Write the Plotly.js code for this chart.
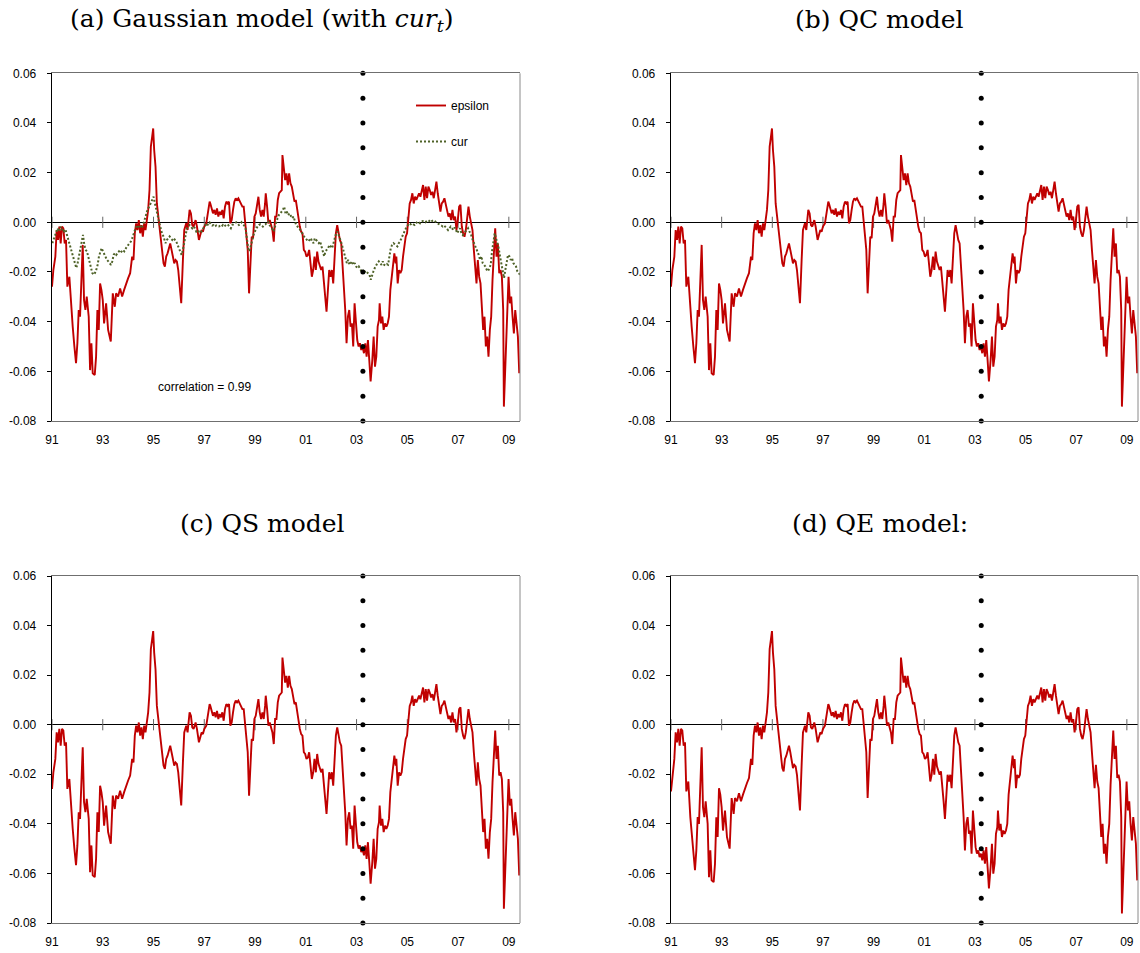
<!DOCTYPE html>
<html>
<head>
<meta charset="utf-8">
<script src="https://cdn.plot.ly/plotly-3.0.1.min.js"></script>
<style>
html,body{margin:0;padding:0;background:#fff;}
#chart{width:1140px;height:953px;}
</style>
</head>
<body>
<div id="chart"></div>
<script>
// ---------------- DATA ----------------
const panelTitles = [
  "(a) Gaussian model (with <i>cur</i><sub><i>t</i></sub>)",
  "(b) QC model",
  "(c) QS model",
  "(d) QE model:"
];
const xTickYears = [1991,1993,1995,1997,1999,2001,2003,2005,2007,2009];
const xTickText  = ["91","93","95","97","99","01","03","05","07","09"];
const yTickVals  = [-0.08,-0.06,-0.04,-0.02,0,0.02,0.04,0.06];
const yTickText  = ["-0.08","-0.06","-0.04","-0.02","0.00","0.02","0.04","0.06"];
const breakYear  = 2003.25;
const dotLevels  = [-0.08,-0.07,-0.06,-0.05,-0.04,-0.03,-0.02,-0.01,0,0.01,0.02,0.03,0.04,0.05,0.06];
const correlationText = "correlation = 0.99";

// epsilon: dates (decimal years)
const epsYears = [
1991.000,1991.053,1991.132,1991.184,1991.237,1991.289,1991.342,1991.395,1991.447,1991.500,
1991.553,1991.605,1991.684,1991.763,1991.816,1991.882,1991.947,1992.000,1992.053,1992.105,
1992.158,1992.211,1992.263,1992.316,1992.368,1992.447,1992.500,1992.553,1992.605,1992.684,
1992.737,1992.789,1992.842,1992.895,1992.947,1993.000,1993.053,1993.132,1993.211,1993.316,
1993.395,1993.474,1993.526,1993.605,1993.684,1993.763,1993.842,1993.921,1994.000,1994.079,
1994.158,1994.211,1994.263,1994.316,1994.368,1994.421,1994.474,1994.526,1994.579,1994.632,
1994.684,1994.737,1994.789,1994.842,1994.895,1994.947,1994.987,1995.026,1995.079,1995.132,
1995.184,1995.237,1995.289,1995.342,1995.395,1995.447,1995.500,1995.553,1995.605,1995.658,
1995.711,1995.763,1995.816,1995.868,1995.921,1995.974,1996.026,1996.092,1996.158,1996.211,
1996.289,1996.342,1996.421,1996.474,1996.526,1996.579,1996.658,1996.711,1996.789,1996.842,
1996.895,1996.947,1997.000,1997.079,1997.158,1997.211,
1997.238,1997.291,1997.343,1997.396,1997.448,1997.501,1997.554,1997.606,1997.659,1997.712,
1997.764,1997.817,1997.869,1997.922,1997.975,1998.027,1998.080,1998.133,1998.185,1998.238,
1998.291,1998.343,1998.396,1998.448,1998.501,1998.554,1998.606,1998.659,1998.712,1998.764,
1998.817,1998.869,1998.922,1998.975,1999.027,1999.080,1999.133,1999.185,1999.238,1999.291,
1999.343,1999.396,1999.422,1999.475,1999.527,1999.580,1999.633,1999.685,1999.738,1999.791,
1999.843,1999.896,1999.948,2000.001,2000.054,2000.080,2000.133,2000.185,2000.238,2000.291,
2000.343,2000.396,2000.448,2000.501,2000.554,2000.606,2000.659,2000.712,2000.764,2000.817,
2000.869,2000.922,2000.975,2001.027,2001.080,2001.133,2001.185,2001.238,2001.291,2001.343,
2001.396,2001.448,2001.501,2001.554,2001.606,2001.659,2001.712,2001.764,2001.817,2001.869,
2001.922,2001.975,2002.027,2002.080,2002.133,2002.185,2002.238,2002.291,2002.343,2002.396,
2002.448,2002.501,2002.554,2002.606,2002.659,2002.712,2002.764,2002.817,2002.869,2002.922,
2002.975,2003.027,2003.080,2003.133,2003.185,2003.238,2003.291,2003.343,2003.396,2003.448,
2003.501,2003.554,
2003.621,2003.673,2003.726,2003.778,2003.831,2003.884,2003.910,2003.963,2004.015,2004.068,
2004.121,2004.173,2004.226,2004.278,2004.331,2004.384,2004.436,2004.489,2004.542,2004.568,
2004.621,2004.673,2004.726,2004.778,2004.831,2004.884,2004.936,2004.989,2005.042,2005.094,
2005.147,2005.199,2005.252,2005.305,2005.357,2005.410,2005.463,2005.515,2005.568,2005.621,
2005.673,2005.726,2005.778,2005.831,2005.884,2005.936,2005.989,2006.042,2006.094,2006.147,
2006.199,2006.252,2006.305,2006.357,2006.410,2006.463,2006.515,2006.568,2006.621,2006.673,
2006.726,2006.778,2006.831,2006.884,2006.936,2006.989,2007.042,2007.094,2007.147,2007.199,
2007.252,2007.305,2007.357,2007.410,2007.463,2007.515,2007.568,2007.621,2007.673,2007.726,
2007.778,2007.831,2007.884,2007.936,2007.989,2008.042,2008.094,2008.147,2008.199,2008.252,
2008.305,2008.357,2008.410,2008.463,2008.515,2008.568,2008.621,2008.673,2008.726,2008.778,
2008.805,2008.857,2008.910,2008.936,2008.989,2009.042,2009.094,2009.147,2009.199,2009.252,
2009.305,2009.357,2009.410
];

// epsilon as drawn in panels (a), (b) and (c) (visually identical there)
const epsilon = [
-0.0259,-0.0192,-0.0138,-0.0031,-0.0071,-0.0017,-0.0085,-0.0017,-0.0024,-0.0085,
-0.0071,-0.0259,-0.0219,-0.0353,-0.0420,-0.0500,-0.0567,-0.0487,-0.0353,-0.0380,
-0.0246,-0.0091,-0.0313,-0.0353,-0.0299,-0.0380,-0.0595,-0.0487,-0.0608,-0.0615,
-0.0541,-0.0353,-0.0433,-0.0246,-0.0272,-0.0313,-0.0407,-0.0326,-0.0433,-0.0480,
-0.0286,-0.0340,-0.0286,-0.0299,-0.0266,-0.0299,-0.0272,-0.0246,-0.0225,-0.0205,
-0.0138,-0.0152,-0.0044,-0.0004,-0.0031,0.0009,-0.0044,-0.0011,-0.0058,-0.0004,
-0.0031,0.0009,0.0050,0.0130,0.0305,0.0345,0.0378,0.0291,0.0224,0.0076,
0.0023,-0.0017,-0.0085,-0.0111,-0.0165,-0.0178,-0.0138,-0.0125,-0.0098,-0.0085,
-0.0111,-0.0138,-0.0165,-0.0152,-0.0158,-0.0192,-0.0246,-0.0326,-0.0152,-0.0031,
-0.0004,-0.0031,0.0050,0.0036,-0.0011,-0.0017,0.0009,-0.0017,-0.0071,-0.0044,
-0.0031,-0.0038,-0.0017,-0.0004,0.0050,0.0083,
0.0076,0.0050,0.0036,0.0050,0.0030,0.0056,0.0023,0.0043,0.0030,0.0050,
0.0016,0.0063,0.0083,0.0076,0.0083,-0.0004,0.0009,0.0050,0.0083,0.0097,
0.0090,0.0097,0.0083,0.0076,0.0063,0.0063,0.0009,-0.0044,-0.0111,-0.0286,
-0.0138,-0.0058,-0.0064,0.0023,0.0036,0.0063,0.0103,0.0050,0.0023,0.0050,
0.0023,0.0076,0.0117,0.0063,-0.0004,0.0009,-0.0017,-0.0031,-0.0078,0.0023,
0.0023,0.0090,0.0117,0.0123,0.0130,0.0271,0.0224,0.0170,0.0197,0.0150,
0.0197,0.0157,0.0144,0.0117,0.0083,0.0090,0.0050,0.0003,-0.0017,-0.0038,
-0.0044,-0.0111,-0.0118,-0.0138,-0.0132,-0.0111,-0.0178,-0.0219,-0.0192,-0.0138,
-0.0192,-0.0118,-0.0158,-0.0178,-0.0192,-0.0178,-0.0259,-0.0299,-0.0360,-0.0259,
-0.0192,-0.0219,-0.0192,-0.0246,-0.0138,-0.0044,-0.0011,-0.0044,-0.0071,-0.0085,
-0.0165,-0.0259,-0.0353,-0.0487,-0.0380,-0.0353,-0.0420,-0.0407,-0.0500,-0.0326,
-0.0407,-0.0474,-0.0500,-0.0487,-0.0514,-0.0500,-0.0527,-0.0487,-0.0541,-0.0474,
-0.0554,-0.0641,
-0.0554,-0.0460,-0.0581,-0.0541,-0.0420,-0.0393,-0.0326,-0.0407,-0.0380,-0.0433,
-0.0407,-0.0420,-0.0407,-0.0380,-0.0272,-0.0219,-0.0152,-0.0125,-0.0165,-0.0138,
-0.0246,-0.0192,-0.0205,-0.0192,-0.0138,-0.0085,-0.0058,-0.0044,0.0009,0.0076,
0.0090,0.0117,0.0076,0.0103,0.0090,0.0103,0.0117,0.0103,0.0130,0.0150,
0.0090,0.0144,0.0097,0.0144,0.0130,0.0110,0.0123,0.0097,0.0130,0.0164,
0.0117,0.0083,0.0043,0.0076,0.0083,0.0097,0.0076,0.0043,0.0023,0.0036,
0.0009,0.0050,0.0009,0.0023,-0.0031,0.0009,0.0063,0.0070,-0.0017,-0.0044,
-0.0058,-0.0031,0.0009,0.0063,0.0023,-0.0004,-0.0031,-0.0111,-0.0192,-0.0246,
-0.0152,-0.0219,-0.0246,-0.0353,-0.0433,-0.0380,-0.0500,-0.0460,-0.0541,-0.0433,
-0.0380,-0.0232,-0.0138,-0.0024,-0.0138,-0.0085,-0.0205,-0.0192,-0.0219,-0.0353,
-0.0742,-0.0568,-0.0460,-0.0299,-0.0219,-0.0326,-0.0299,-0.0380,-0.0447,-0.0353,
-0.0420,-0.0460,-0.0608
];

// epsilon as drawn in panel (d) QE model (slightly deeper troughs)
const epsilonQE = [
-0.0269,-0.0202,-0.0138,-0.0031,-0.0071,-0.0017,-0.0085,-0.0017,-0.0024,-0.0085,
-0.0071,-0.0269,-0.0229,-0.0373,-0.0440,-0.0520,-0.0587,-0.0507,-0.0373,-0.0400,
-0.0256,-0.0091,-0.0333,-0.0373,-0.0309,-0.0400,-0.0615,-0.0507,-0.0628,-0.0635,
-0.0561,-0.0373,-0.0453,-0.0256,-0.0282,-0.0333,-0.0427,-0.0346,-0.0453,-0.0500,
-0.0296,-0.0360,-0.0296,-0.0309,-0.0276,-0.0309,-0.0282,-0.0256,-0.0235,-0.0215,
-0.0138,-0.0162,-0.0044,-0.0004,-0.0031,0.0009,-0.0044,-0.0011,-0.0058,-0.0004,
-0.0031,0.0009,0.0050,0.0130,0.0305,0.0345,0.0378,0.0291,0.0224,0.0076,
0.0023,-0.0017,-0.0085,-0.0111,-0.0175,-0.0188,-0.0138,-0.0125,-0.0098,-0.0085,
-0.0111,-0.0138,-0.0175,-0.0162,-0.0168,-0.0202,-0.0256,-0.0346,-0.0162,-0.0031,
-0.0004,-0.0031,0.0050,0.0036,-0.0011,-0.0017,0.0009,-0.0017,-0.0071,-0.0044,
-0.0031,-0.0038,-0.0017,-0.0004,0.0050,0.0083,
0.0076,0.0050,0.0036,0.0050,0.0030,0.0056,0.0023,0.0043,0.0030,0.0050,
0.0016,0.0063,0.0083,0.0076,0.0083,-0.0004,0.0009,0.0050,0.0083,0.0097,
0.0090,0.0097,0.0083,0.0076,0.0063,0.0063,0.0009,-0.0044,-0.0111,-0.0296,
-0.0138,-0.0058,-0.0064,0.0023,0.0036,0.0063,0.0103,0.0050,0.0023,0.0050,
0.0023,0.0076,0.0117,0.0063,-0.0004,0.0009,-0.0017,-0.0031,-0.0078,0.0023,
0.0023,0.0090,0.0117,0.0123,0.0130,0.0271,0.0224,0.0170,0.0197,0.0150,
0.0197,0.0157,0.0144,0.0117,0.0083,0.0090,0.0050,0.0003,-0.0017,-0.0038,
-0.0044,-0.0111,-0.0118,-0.0138,-0.0132,-0.0111,-0.0188,-0.0229,-0.0202,-0.0138,
-0.0202,-0.0118,-0.0168,-0.0188,-0.0202,-0.0188,-0.0269,-0.0309,-0.0380,-0.0269,
-0.0202,-0.0229,-0.0202,-0.0256,-0.0138,-0.0044,-0.0011,-0.0044,-0.0071,-0.0085,
-0.0175,-0.0269,-0.0373,-0.0507,-0.0400,-0.0373,-0.0440,-0.0427,-0.0520,-0.0346,
-0.0427,-0.0494,-0.0520,-0.0507,-0.0534,-0.0520,-0.0547,-0.0507,-0.0561,-0.0494,
-0.0574,-0.0661,
-0.0574,-0.0480,-0.0601,-0.0561,-0.0440,-0.0413,-0.0346,-0.0427,-0.0400,-0.0453,
-0.0427,-0.0440,-0.0427,-0.0400,-0.0282,-0.0229,-0.0162,-0.0125,-0.0175,-0.0138,
-0.0256,-0.0202,-0.0215,-0.0202,-0.0138,-0.0085,-0.0058,-0.0044,0.0009,0.0076,
0.0090,0.0117,0.0076,0.0103,0.0090,0.0103,0.0117,0.0103,0.0130,0.0150,
0.0090,0.0144,0.0097,0.0144,0.0130,0.0110,0.0123,0.0097,0.0130,0.0164,
0.0117,0.0083,0.0043,0.0076,0.0083,0.0097,0.0076,0.0043,0.0023,0.0036,
0.0009,0.0050,0.0009,0.0023,-0.0031,0.0009,0.0063,0.0070,-0.0017,-0.0044,
-0.0058,-0.0031,0.0009,0.0063,0.0023,-0.0004,-0.0031,-0.0111,-0.0202,-0.0256,
-0.0162,-0.0229,-0.0256,-0.0373,-0.0453,-0.0400,-0.0520,-0.0480,-0.0561,-0.0453,
-0.0400,-0.0242,-0.0138,-0.0024,-0.0138,-0.0085,-0.0215,-0.0202,-0.0229,-0.0373,
-0.0762,-0.0588,-0.0480,-0.0309,-0.0229,-0.0346,-0.0309,-0.0400,-0.0467,-0.0373,
-0.0440,-0.0480,-0.0628
];

// cur (panel a, dotted): regular sampling from curStart every curStep years
const curStart = 1991.013;
const curStep  = 0.0525;
const curValues = [
-0.0084,-0.0071,-0.0053,-0.0044,-0.0024,-0.0037,-0.0017,-0.0031,-0.0024,-0.0037,
-0.0031,-0.0051,-0.0071,-0.0091,-0.0111,-0.0131,-0.0151,-0.0171,-0.0184,-0.0164,
-0.0137,-0.0117,-0.0084,-0.0051,-0.0091,-0.0111,-0.0117,-0.0137,-0.0164,-0.0184,
-0.0204,-0.0211,-0.0204,-0.0191,-0.0171,-0.0137,-0.0117,-0.0104,-0.0117,-0.0131,
-0.0137,-0.0151,-0.0157,-0.0164,-0.0171,-0.0157,-0.0131,-0.0124,-0.0131,-0.0124,
-0.0117,-0.0124,-0.0117,-0.0111,-0.0117,-0.0104,-0.0097,-0.0091,-0.0084,-0.0077,
-0.0064,-0.0051,-0.0031,-0.0017,-0.0024,-0.0011,-0.0017,-0.0024,-0.0011,0.0003,
0.0023,0.0043,0.0056,0.0069,0.0083,0.0089,0.0103,0.0076,0.0056,0.0029,
0.0003,-0.0024,-0.0037,-0.0051,-0.0071,-0.0084,-0.0071,-0.0064,-0.0057,-0.0064,
-0.0071,-0.0064,-0.0071,-0.0077,-0.0091,-0.0104,-0.0117,-0.0131,-0.0111,-0.0077,
-0.0044,-0.0024,-0.0017,-0.0011,-0.0017,-0.0024,-0.0017,-0.0024,-0.0037,-0.0031,
-0.0037,-0.0031,-0.0037,-0.0024,-0.0017,-0.0011,-0.0017,-0.0004,0.0000,-0.0008,
-0.0013,-0.0011,-0.0017,-0.0013,-0.0017,-0.0017,-0.0013,-0.0017,-0.0011,-0.0017,
-0.0013,-0.0008,-0.0011,-0.0017,-0.0024,-0.0011,-0.0008,-0.0004,0.0000,-0.0004,
-0.0011,-0.0008,0.0000,-0.0008,-0.0013,-0.0024,-0.0064,-0.0104,-0.0117,-0.0091,
-0.0064,-0.0051,-0.0037,-0.0024,-0.0017,-0.0011,-0.0008,-0.0013,-0.0017,-0.0011,
-0.0008,0.0000,0.0003,-0.0011,-0.0017,-0.0024,-0.0037,-0.0017,0.0003,0.0016,
0.0029,0.0036,0.0043,0.0049,0.0063,
0.0036,0.0043,0.0029,0.0036,0.0023,0.0016,0.0023,0.0003,-0.0011,-0.0017,
-0.0024,-0.0031,-0.0037,-0.0051,-0.0057,-0.0064,-0.0071,-0.0077,-0.0071,-0.0064,
-0.0077,-0.0084,-0.0064,-0.0071,-0.0077,-0.0084,-0.0077,-0.0097,-0.0117,-0.0137,
-0.0117,-0.0111,-0.0104,-0.0091,-0.0097,-0.0104,-0.0084,-0.0064,-0.0044,-0.0037,
-0.0051,-0.0071,-0.0084,-0.0104,-0.0124,-0.0151,-0.0164,-0.0151,-0.0171,-0.0164,
-0.0157,-0.0171,-0.0164,-0.0178,-0.0184,-0.0178,-0.0191,-0.0197,-0.0191,-0.0204,
-0.0195,-0.0200,-0.0208,-0.0211,-0.0231,-0.0211,-0.0197,-0.0184,-0.0171,-0.0164,
-0.0157,-0.0164,-0.0171,-0.0157,-0.0171,-0.0173,-0.0168,-0.0171,-0.0131,-0.0104,
-0.0091,-0.0084,-0.0088,-0.0091,-0.0097,-0.0084,-0.0077,-0.0064,-0.0051,-0.0037,
-0.0031,-0.0017,-0.0011,-0.0004,-0.0008,-0.0004,-0.0008,-0.0011,-0.0004,0.0003,
0.0000,-0.0004,0.0003,0.0005,0.0003,0.0000,0.0005,0.0009,0.0005,0.0000,
0.0005,0.0009,0.0005,0.0000,-0.0004,-0.0008,-0.0011,-0.0013,-0.0017,-0.0013,
-0.0021,-0.0024,-0.0031,-0.0024,-0.0017,-0.0024,-0.0031,-0.0021,-0.0037,-0.0044,
-0.0031,-0.0024,-0.0044,-0.0051,-0.0044,-0.0037,-0.0031,-0.0024,-0.0037,-0.0044,
-0.0064,-0.0077,-0.0091,-0.0097,-0.0111,-0.0131,-0.0151,-0.0137,-0.0164,-0.0171,
-0.0178,-0.0191,-0.0197,-0.0184,-0.0171,-0.0117,-0.0071,-0.0044,-0.0064,-0.0084,
-0.0104,-0.0137,-0.0171,-0.0204,-0.0224,-0.0191,-0.0157,-0.0131,-0.0137,-0.0151,
-0.0144,-0.0164,-0.0171,-0.0178,-0.0197,-0.0204,-0.0211
];
const curYears = curValues.map((_, i) => +(curStart + i * curStep).toFixed(4));

// ---------------- LAYOUT / STYLE ----------------
const W = 1140, H = 953;
const RED = "#c00000", GREEN = "#4f6228";
const tickFont = {family: "Liberation Sans, Arial, sans-serif", size: 12, color: "#000"};
const titleFont = {family: "DejaVu Serif, Liberation Serif, serif", size: 25, color: "#000"};
const boxes = [
  {l: 52,  r: 520,  t: 73.3, b: 421, tx: 262, ty: 20,  series: epsilon},
  {l: 671, r: 1138, t: 73.3, b: 421, tx: 879, ty: 20,  series: epsilon},
  {l: 52,  r: 520,  t: 576,  b: 923, tx: 262, ty: 523, series: epsilon},
  {l: 671, r: 1138, t: 576,  b: 923, tx: 880, ty: 523, series: epsilonQE}
];

const traces = [];
const layout = {
  width: W, height: H,
  margin: {l: 0, r: 0, t: 0, b: 0},
  paper_bgcolor: "#fff", plot_bgcolor: "#fff",
  showlegend: true,
  legend: {
    x: 411 / W, y: 1 - 91 / H, xanchor: "left", yanchor: "top",
    bgcolor: "rgba(0,0,0,0)", borderwidth: 0,
    font: {family: "Liberation Sans, Arial, sans-serif", size: 12, color: "#000"},
    traceorder: "grouped", tracegroupgap: 17, itemwidth: 30
  },
  annotations: [], shapes: []
};

boxes.forEach((bx, i) => {
  const sfx = i === 0 ? "" : String(i + 1);
  const xa = "x" + sfx, ya = "y" + sfx;
  layout["xaxis" + sfx] = {
    domain: [bx.l / W, bx.r / W], anchor: ya,
    range: [1991, 2009.44],
    tickvals: xTickYears, ticktext: xTickText, tickfont: tickFont,
    ticks: "", ticklabelstandoff: 8,
    showline: true, linecolor: "#6f6f6f", linewidth: 1, mirror: true,
    showgrid: false, zeroline: false, fixedrange: true
  };
  layout["yaxis" + sfx] = {
    domain: [1 - bx.b / H, 1 - bx.t / H], anchor: xa,
    range: [-0.08, 0.06],
    tickvals: yTickVals, ticktext: yTickText, tickfont: tickFont,
    ticks: "outside", ticklen: 4, tickcolor: "#000", tickwidth: 1, ticklabelstandoff: 8,
    showline: true, linecolor: "#000", linewidth: 1.3,
    showgrid: false, zeroline: true, zerolinecolor: "#000", zerolinewidth: 1.3,
    fixedrange: true
  };
  // right border of the plot area
  layout.shapes.push({type: "line", xref: xa + " domain", yref: ya + " domain",
    x0: 1, x1: 1, y0: 0, y1: 1, line: {color: "#8a8a8a", width: 1}});
  // panel title
  layout.annotations.push({text: panelTitles[i], xref: "paper", yref: "paper",
    x: bx.tx / W, y: 1 - bx.ty / H, xanchor: "center", yanchor: "middle",
    showarrow: false, font: titleFont});

  // small crossing ticks on the zero line
  traces.push({type: "scatter", mode: "markers", xaxis: xa, yaxis: ya,
    x: xTickYears, y: xTickYears.map(() => 0), showlegend: false, hoverinfo: "skip",
    marker: {symbol: "line-ns-open", size: 8, color: "#666", line: {color: "#666", width: 1}}});
  // epsilon
  traces.push({type: "scatter", mode: "lines", xaxis: xa, yaxis: ya,
    x: epsYears, y: bx.series, name: "epsilon", legendgroup: "eps",
    showlegend: i === 0, line: {color: RED, width: 1.9}, hoverinfo: "skip"});
  if (i === 0) {
    traces.push({type: "scatter", mode: "lines", xaxis: xa, yaxis: ya,
      x: curYears, y: curValues, name: "cur", legendgroup: "cur",
      showlegend: true, line: {color: GREEN, width: 2, dash: "2px,2px"}, hoverinfo: "skip"});
    layout.annotations.push({text: correlationText, xref: xa, yref: ya,
      x: 1997.0, y: -0.0663, xanchor: "center", yanchor: "middle", showarrow: false,
      font: {family: "Liberation Sans, Arial, sans-serif", size: 12, color: "#000"}});
  }
  // dotted vertical break line
  traces.push({type: "scatter", mode: "markers", xaxis: xa, yaxis: ya,
    x: dotLevels.map(() => breakYear), y: dotLevels, showlegend: false, hoverinfo: "skip",
    marker: {symbol: "circle", size: 5, color: "#000"}, cliponaxis: false});
});

Plotly.newPlot("chart", traces, layout, {staticPlot: true, displayModeBar: false});
</script>
</body>
</html>
